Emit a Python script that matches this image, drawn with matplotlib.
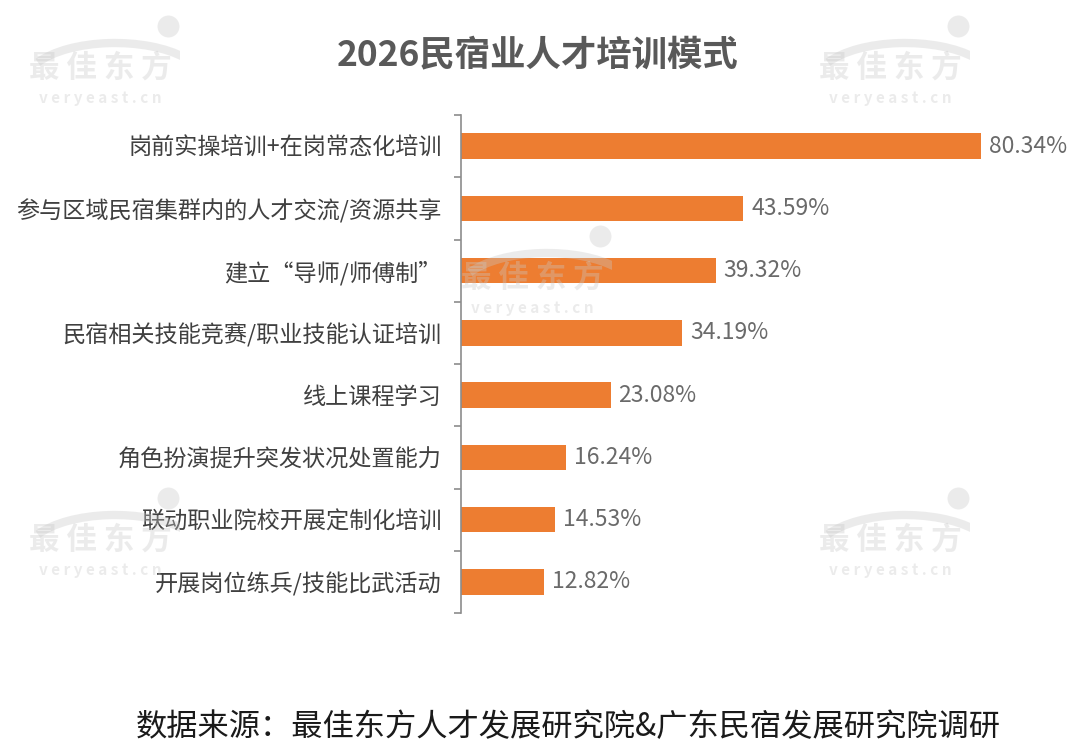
import matplotlib
matplotlib.use("Agg")
import matplotlib.pyplot as plt
import numpy as np
from matplotlib.patches import Arc

plt.rcParams['font.family'] = ['Noto Sans CJK SC', 'DejaVu Sans']

title = "2026民宿业人才培训模式"
categories = [
    "岗前实操培训+在岗常态化培训",
    "参与区域民宿集群内的人才交流/资源共享",
    "建立“导师/师傅制”",
    "民宿相关技能竞赛/职业技能认证培训",
    "线上课程学习",
    "角色扮演提升突发状况处置能力",
    "联动职业院校开展定制化培训",
    "开展岗位练兵/技能比武活动",
]
values = [80.34, 43.59, 39.32, 34.19, 23.08, 16.24, 14.53, 12.82]
source = "数据来源：最佳东方人才发展研究院&广东民宿发展研究院调研"

W, H = 1080, 756
fig = plt.figure(figsize=(W / 100, H / 100), dpi=100)
ax = fig.add_axes([461 / W, 1 - 613 / H, 583 / W, (613 - 115) / H])

y = np.arange(len(categories))
ax.barh(y, values, height=0.41, color="#ED7D31", zorder=2)
ax.set_ylim(len(categories) - 0.5, -0.5)
ax.set_xlim(0, 90)

for yi, v in zip(y, values):
    ax.text(v + 1.2, yi, f"{v:.2f}%", va="center", ha="left",
            fontsize=16.5, fontweight="light", color="#6A6A6A")

ax.set_yticks(y)
ax.set_yticklabels(categories, fontsize=16.7, color="#404040")
ax.tick_params(axis="y", which="major", length=0, pad=14)
ax.set_yticks(np.arange(-0.5, len(categories), 1), minor=True)
ax.tick_params(axis="y", which="minor", length=5, width=1.2, color="#8C8C8C", direction="out")
ax.set_xticks([])
for s in ["top", "right", "bottom"]:
    ax.spines[s].set_visible(False)
ax.spines["left"].set_color("#8C8C8C")
ax.spines["left"].set_linewidth(1.2)

fig.text(538 / W, 1 - 55 / H, title, ha="center", va="center",
         fontsize=25.5, fontweight="bold", color="#595959")
fig.text(568 / W, 1 - 727 / H, source, ha="center", va="center",
         fontsize=22.5, color="#1a1a1a")

# watermarks
def watermark(cx, cy):
    fig.text(cx / W, 1 - cy / H, "最 佳 东 方", ha="center", va="center",
             fontsize=22, fontweight="bold", color="#C8C8C8", alpha=0.35, zorder=10)
    fig.text(cx / W, 1 - (cy + 30) / H, "v e r y e a s t . c n", ha="center", va="center",
             fontsize=11, fontweight="bold", color="#C8C8C8", alpha=0.35, zorder=10)
    wax = fig.add_axes([(cx - 80) / W, 1 - (cy + 5) / H, 160 / W, 60 / H])
    wax.set_xlim(0, 160); wax.set_ylim(0, 60); wax.axis("off")
    wax.patch.set_alpha(0)
    wax.add_patch(Arc((95, -10), 180, 80, theta1=20, theta2=165,
                      lw=6, color="#C8C8C8", alpha=0.35))
    wax.scatter([148], [47], s=250, color="#C8C8C8", alpha=0.35, lw=0)

for cx, cy in [(100, 68), (890, 68), (532, 278), (100, 540), (890, 540)]:
    watermark(cx, cy)

fig.savefig("out.png", dpi=100, facecolor="white")
